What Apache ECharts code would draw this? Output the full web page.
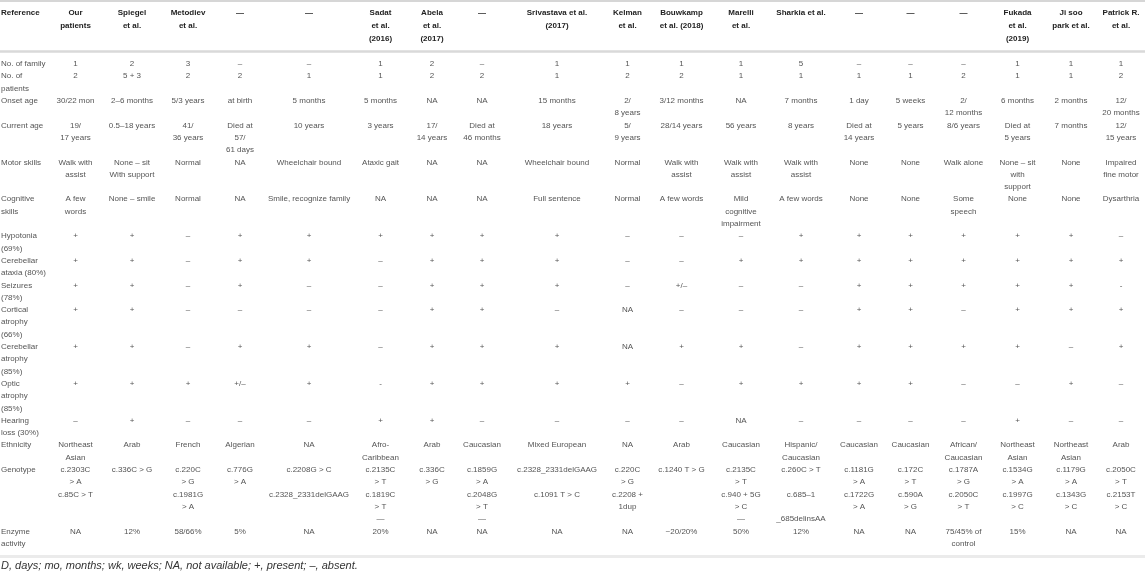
<!DOCTYPE html>
<html lang="en">
<head>
    <meta charset="UTF-8">
    <title>Clinical features table</title>
    <script src="https://cdn.jsdelivr.net/npm/echarts@6/dist/echarts.min.js"></script>
    <style>
        body{ margin: 0; background: #fff; }
    </style>
</head>
<body>
    <div id="main" style="width: 1145px; height: 576px;"></div>

    <script>
        // 1. data
        var headers = ["Reference", "Our\npatients", "Spiegel\net al.", "Metodiev\net al.", "—", "—",
            "Sadat\net al.\n(2016)", "Abela\net al.\n(2017)", "—", "Srivastava et al.\n(2017)", "Kelman\net al.",
            "Bouwkamp\net al. (2018)", "Marelli\net al.", "Sharkia et al.", "—", "—", "—",
            "Fukada\net al.\n(2019)", "Ji soo\npark et al.", "Patrick R.\net al."];

        var rowLabels = ["No. of family", "No. of\npatients", "Onset age", "Current age", "Motor skills",
            "Cognitive\nskills", "Hypotonia\n(69%)", "Cerebellar\nataxia (80%)", "Seizures\n(78%)",
            "Cortical\natrophy\n(66%)", "Cerebellar\natrophy\n(85%)", "Optic\natrophy\n(85%)",
            "Hearing\nloss (30%)", "Ethnicity", "Genotype", "Enzyme\nactivity"];

        var familyCount = ["1", "2", "3", "–", "–", "1", "2", "–", "1", "1", "1", "1", "5", "–", "–", "–", "1", "1", "1"];
        var patientCount = ["2", "5 + 3", "2", "2", "1", "1", "2", "2", "1", "2", "2", "1", "1", "1", "1", "2", "1", "1", "2"];
        var onsetAge = ["30/22 mon", "2–6 months", "5/3 years", "at birth", "5 months", "5 months", "NA", "NA",
            "15 months", "2/\n8 years", "3/12 months", "NA", "7 months", "1 day", "5 weeks", "2/\n12 months",
            "6 months", "2 months", "12/\n20 months"];
        var currentAge = ["19/\n17 years", "0.5–18 years", "41/\n36 years", "Died at\n57/\n61 days", "10 years",
            "3 years", "17/\n14 years", "Died at\n46 months", "18 years", "5/\n9 years", "28/14 years", "56 years",
            "8 years", "Died at\n14 years", "5 years", "8/6 years", "Died at\n5 years", "7 months", "12/\n15 years"];
        var motorSkills = ["Walk with\nassist", "None – sit\nWith support", "Normal", "NA", "Wheelchair bound",
            "Ataxic gait", "NA", "NA", "Wheelchair bound", "Normal", "Walk with\nassist", "Walk with\nassist",
            "Walk with\nassist", "None", "None", "Walk alone", "None – sit\nwith\nsupport", "None", "Impaired\nfine motor"];
        var cognitiveSkills = ["A few\nwords", "None – smile", "Normal", "NA", "Smile, recognize family", "NA", "NA",
            "NA", "Full sentence", "Normal", "A few words", "Mild\ncognitive\nimpairment", "A few words", "None",
            "None", "Some\nspeech", "None", "None", "Dysarthria"];
        var hypotonia = ["+", "+", "–", "+", "+", "+", "+", "+", "+", "–", "–", "–", "+", "+", "+", "+", "+", "+", "–"];
        var ataxia = ["+", "+", "–", "+", "+", "–", "+", "+", "+", "–", "–", "+", "+", "+", "+", "+", "+", "+", "+"];
        var seizures = ["+", "+", "–", "+", "–", "–", "+", "+", "+", "–", "+/–", "–", "–", "+", "+", "+", "+", "+", "-"];
        var corticalAtrophy = ["+", "+", "–", "–", "–", "–", "+", "+", "–", "NA", "–", "–", "–", "+", "+", "–", "+", "+", "+"];
        var cerebellarAtrophy = ["+", "+", "–", "+", "+", "–", "+", "+", "+", "NA", "+", "+", "–", "+", "+", "+", "+", "–", "+"];
        var opticAtrophy = ["+", "+", "+", "+/–", "+", "-", "+", "+", "+", "+", "–", "+", "+", "+", "+", "–", "–", "+", "–"];
        var hearingLoss = ["–", "+", "–", "–", "–", "+", "+", "–", "–", "–", "–", "NA", "–", "–", "–", "–", "+", "–", "–"];
        var ethnicity = ["Northeast\nAsian", "Arab", "French", "Algerian", "NA", "Afro-\nCaribbean", "Arab",
            "Caucasian", "Mixed European", "NA", "Arab", "Caucasian", "Hispanic/\nCaucasian", "Caucasian",
            "Caucasian", "African/\nCaucasian", "Northeast\nAsian", "Northeast\nAsian", "Arab"];
        var genotype = ["c.2303C\n> A\nc.85C > T", "c.336C > G", "c.220C\n> G\nc.1981G\n> A", "c.776G\n> A",
            "c.2208G > C\n\nc.2328_2331delGAAG", "c.2135C\n> T\nc.1819C\n> T\n—", "c.336C\n> G",
            "c.1859G\n> A\nc.2048G\n> T\n—", "c.2328_2331delGAAG\n\nc.1091 T > C", "c.220C\n> G\nc.2208 +\n1dup",
            "c.1240 T > G", "c.2135C\n> T\nc.940 + 5G\n> C\n—", "c.260C > T\n\nc.685–1\n\n_685delinsAA",
            "c.1181G\n> A\nc.1722G\n> A", "c.172C\n> T\nc.590A\n> G", "c.1787A\n> G\nc.2050C\n> T",
            "c.1534G\n> A\nc.1997G\n> C", "c.1179G\n> A\nc.1343G\n> C", "c.2050C\n> T\nc.2153T\n> C"];
        var enzymeActivity = ["NA", "12%", "58/66%", "5%", "NA", "20%", "NA", "NA", "NA", "NA", "~20/20%", "50%",
            "12%", "NA", "NA", "75/45% of\ncontrol", "15%", "NA", "NA"];

        var footnote = "D, days; mo, months; wk, weeks; NA, not available; +, present; –, absent.";

        var rows = [familyCount, patientCount, onsetAge, currentAge, motorSkills, cognitiveSkills, hypotonia,
            ataxia, seizures, corticalAtrophy, cerebellarAtrophy, opticAtrophy, hearingLoss, ethnicity,
            genotype, enzymeActivity];

        // 2. layout (axis units = px)
        var colWidths = [48, 55, 58, 54, 50, 88, 55, 48, 52, 98, 43, 65, 54, 66, 50, 53, 53, 55, 52, 48];
        var headTop = 6.6, headLine = 12.8;
        var bodyTop = 57.8, bodyLine = 12.3;
        var fontFamily = "'Liberation Sans', Arial, sans-serif";

        function nLines(s) { return s.split("\n").length; }

        var colX = [];
        var acc = 0;
        colWidths.forEach(function (w, i) {
            colX.push(i === 0 ? 1 : acc + w / 2);
            acc += w;
        });

        var items = [];
        headers.forEach(function (h, c) {
            items.push({ value: [colX[c], headTop], text: h, align: c === 0 ? 'left' : 'center', bold: true, lh: headLine });
        });
        var y = bodyTop;
        rows.forEach(function (vals, r) {
            var cells = [rowLabels[r]].concat(vals);
            var lines = Math.max.apply(null, cells.map(nLines));
            cells.forEach(function (t, c) {
                items.push({ value: [colX[c], y], text: t, align: c === 0 ? 'left' : 'center', bold: false, lh: bodyLine });
            });
            y += lines * bodyLine;
        });
        var headRuleY = headTop + 3 * headLine + 6;
        var bottomRuleY = y + 6;

        var mycharts = echarts.init(document.getElementById("main"));

        var option = {
            animation: false,
            title: {
                text: footnote,
                left: 1,
                top: 560,
                padding: 0,
                textStyle: { fontFamily: fontFamily, fontStyle: 'italic', fontWeight: 'normal', fontSize: 11, color: '#333' }
            },
            grid: { left: 0, right: 0, top: 0, bottom: 0 },
            xAxis: { type: 'value', min: 0, max: 1145, show: false },
            yAxis: { type: 'value', min: 0, max: 576, inverse: true, show: false },
            series: [{
                type: 'custom',
                silent: true,
                data: items,
                renderItem: function (params, api) {
                    var it = items[params.dataIndex];
                    var p = api.coord(it.value);
                    return {
                        type: 'text',
                        x: p[0],
                        y: p[1],
                        style: {
                            text: it.text,
                            align: it.align,
                            verticalAlign: 'top',
                            fontSize: 8,
                            fontFamily: fontFamily,
                            fontWeight: it.bold ? 'bold' : 'normal',
                            fill: it.bold ? '#222' : '#555',
                            lineHeight: api.size([0, it.lh])[1]
                        }
                    };
                },
                markLine: {
                    silent: true,
                    symbol: 'none',
                    label: { show: false },
                    data: [
                        { yAxis: 0.8, lineStyle: { color: '#c8c8c8', width: 1.5, type: 'solid' } },
                        { yAxis: headRuleY, lineStyle: { color: '#d9d9d9', width: 2.5, type: 'solid' } },
                        { yAxis: bottomRuleY, lineStyle: { color: '#ebebeb', width: 3, type: 'solid' } }
                    ]
                }
            }]
        };

        mycharts.setOption(option);
    </script>
</body>
</html>
